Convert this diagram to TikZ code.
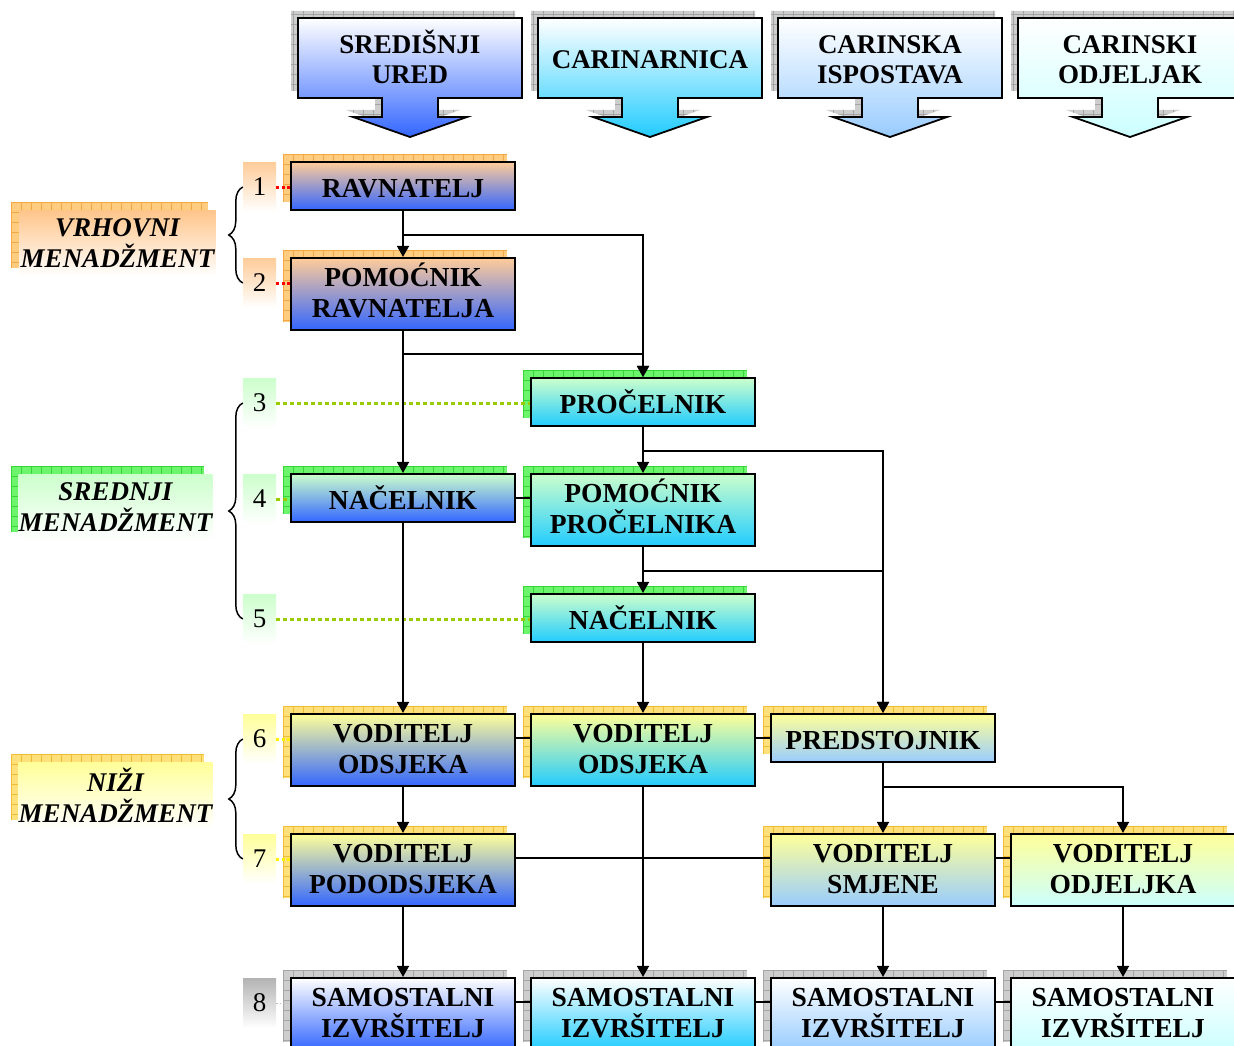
\documentclass[tikz,border=0pt]{standalone}
\usepackage{fontspec}
\setmainfont{Liberation Serif}
\usetikzlibrary{arrows.meta,calc,decorations.pathreplacing}

% box gradients
\definecolor{cPeach}{HTML}{FFCC99}
\definecolor{cBlue}{HTML}{3366FF}
\definecolor{cMint}{HTML}{CCFFCC}
\definecolor{cCyan}{HTML}{22CCFF}
\definecolor{cLemon}{HTML}{FFFF99}
\definecolor{cSky}{HTML}{99CCFF}
\definecolor{cIce}{HTML}{CCFFFF}
% patterned shadows (fill / grid line)
\definecolor{shO}{HTML}{FFCC80}\definecolor{shOL}{HTML}{F2A845}
\definecolor{shG}{HTML}{6CF56C}\definecolor{shGL}{HTML}{36D636}
\definecolor{shY}{HTML}{FFE07A}\definecolor{shYL}{HTML}{F0BE35}
\definecolor{shK}{HTML}{CDCDCD}\definecolor{shKL}{HTML}{A5A5A5}
% level leader lines
\definecolor{lvGreen}{HTML}{99CC00}
\definecolor{lvGray}{HTML}{BBBBBB}

% lines always one baselineskip apart, whatever their accents
\AtBeginDocument{\lineskiplimit=-100pt\relax}

% fixed-height text lines, so accents do not move the text
\newcommand\oneline[1]{\rule[-3.8pt]{0pt}{30.8pt}#1}
\newcommand\twolines[2]{\rule{0pt}{27pt}#1\\\rule[-11.4pt]{0pt}{11.4pt}#2}
\newcommand\hdone[1]{\rule[-9.2pt]{0pt}{36.2pt}#1}
\newcommand\hdtwo[2]{\rule{0pt}{27pt}#1\\\rule[-9.2pt]{0pt}{9.2pt}#2}

% rectangle filled with a small grid
\newcommand\gridfill[5]{%
  \fill[sh#5] (#1,#2) rectangle (#3,#4);
  \begin{scope}
    \clip (#1,#2) rectangle (#3,#4);
    \foreach \k in {0,...,24}{\draw[sh#5L,line width=0.7pt] ({#1+10*\k},#2) -- ({#1+10*\k},#4);}
    \foreach \k in {0,...,9}{\draw[sh#5L,line width=0.7pt] (#1,{#2+10*\k}) -- (#3,{#2+10*\k});}
  \end{scope}}

% post box with its offset shadow:
% name, centre x, top, height, shadow kind, top colour, bottom colour, text
\newcommand\orgbox[8]{%
  \pgfmathsetmacro\xa{#2-120}\pgfmathsetmacro\ya{#3-8}%
  \pgfmathsetmacro\xb{#2+104}\pgfmathsetmacro\yb{#3+#4-8}%
  \gridfill{\xa}{\ya}{\xb}{\yb}{#5}
  \pgfmathsetmacro\yc{#3+#4/2}%
  \node[postbox,top color=#6,middle color=#6!62!#7,bottom color=#7,minimum height=#4pt]
    (#1) at (#2,\yc) {#8};}

% callout with a downward arrow
\newcommand\headpath[1]{({#1-112},18) -- ({#1+112},18) -- ({#1+112},98) -- ({#1+28},98) -- ({#1+28},117) -- ({#1+57},117) -- (#1,137) -- ({#1-57},117) -- ({#1-28},117) -- ({#1-28},98) -- ({#1-112},98) -- cycle}

\newcommand\header[4]{%
  \begin{scope}[shift={(-7,-7)}]
    \fill[shK] \headpath{#2};
    \begin{scope}
      \clip \headpath{#2};
      \foreach \k in {0,...,25}{\draw[shKL,line width=0.7pt] ({#2-120+10*\k},0) -- ({#2-120+10*\k},140);}
      \foreach \k in {0,...,14}{\draw[shKL,line width=0.7pt] ({#2-120},{10*\k+1}) -- ({#2+120},{10*\k+1});}
    \end{scope}
  \end{scope}
  \shadedraw[top color=white,middle color=#3!40!white,bottom color=#3,draw=black,line width=1.8pt] \headpath{#2};
  \node[htext] (#1) at (#2,60) {#4};}

% level number tile: name, top, colour, number
\newcommand\level[4]{%
  \node[lvbox,top color=#3,bottom color=white] (#1) at (259.5,{#2+25}) {#4};}

\begin{document}
\begin{tikzpicture}[x=1pt,y=-1pt,
  postbox/.style={draw=black,line width=2.2pt,minimum width=224pt,inner sep=0pt,
    align=center,font=\fontsize{27.5}{31}\selectfont\bfseries},
  htext/.style={align=center,inner sep=0pt,
    font=\fontsize{27}{30}\selectfont\bfseries},
  lvbox/.style={minimum width=33pt,minimum height=50pt,inner sep=0pt,
    font=\fontsize{27}{31}\selectfont},
  mgmt/.style={minimum width=196pt,minimum height=66pt,inner sep=0pt,align=center,
    font=\fontsize{27}{31}\selectfont\bfseries\itshape},
  conn/.style={line width=1.8pt},
  arr/.style={conn,-{Triangle[width=12pt,length=11pt]}},
  brace/.style={decorate,decoration={brace,amplitude=14pt},line width=1.5pt},
  dotRed/.style={draw=red,line width=3pt,dash pattern=on 3pt off 2.5pt},
  dotGreen/.style={draw=lvGreen,line width=3pt,dash pattern=on 4pt off 3pt},
  dotYellow/.style={draw=yellow,line width=3pt,dash pattern=on 3pt off 2.5pt},
  dotGray/.style={draw=lvGray,line width=1pt,dash pattern=on 1.5pt off 2pt}]
\useasboundingbox (0,0) rectangle (1234,1046);
\fill[white] (0,0) rectangle (1234,1046);

% organisational units
\header{hd1}{410}{cBlue}{\hdtwo{SREDIŠNJI}{URED}}
\header{hd2}{650}{cCyan}{\hdone{CARINARNICA}}
\header{hd3}{890}{cSky}{\hdtwo{CARINSKA}{ISPOSTAVA}}
\header{hd4}{1130}{cIce}{\hdtwo{CARINSKI}{ODJELJAK}}

% management groups
\gridfill{11}{202}{208}{268}{O}
\node[mgmt,top color=cPeach!90!orange,bottom color=white] (top) at (117.5,243) {VRHOVNI\\MENADŽMENT};
\gridfill{11}{466}{204}{532}{G}
\node[mgmt,minimum width=193pt,top color=cMint,bottom color=white] (mid) at (115.5,507) {SREDNJI\\MENADŽMENT};
\gridfill{11}{754}{204}{820}{Y}
\node[mgmt,minimum width=193pt,top color=cLemon,bottom color=white] (low) at (115.5,795) {NIŽI\\MENADŽMENT};

% levels
\level{lv1}{162}{cPeach}{1}
\level{lv2}{258}{cPeach}{2}
\level{lv3}{378}{cMint}{3}
\level{lv4}{474}{cMint}{4}
\level{lv5}{594}{cMint}{5}
\level{lv6}{714}{cLemon}{6}
\level{lv7}{834}{cLemon}{7}
\level{lv8}{978}{black!30}{8}

\draw[brace] (lv2.west) -- (lv1.west);
\draw[brace] (lv5.west) -- (lv3.west);
\draw[brace] (lv7.west) -- (lv6.west);

% posts
\orgbox{rav}{403}{162}{48}{O}{cPeach}{cBlue}{\oneline{RAVNATELJ}}
\orgbox{pomr}{403}{258}{72}{O}{cPeach}{cBlue}{\twolines{POMOĆNIK}{RAVNATELJA}}
\orgbox{proc}{643}{378}{48}{G}{cMint}{cCyan}{\oneline{PROČELNIK}}
\orgbox{nac1}{403}{474}{48}{G}{cMint}{cBlue}{\oneline{NAČELNIK}}
\orgbox{pomp}{643}{474}{72}{G}{cMint}{cCyan}{\twolines{POMOĆNIK}{PROČELNIKA}}
\orgbox{nac2}{643}{594}{48}{G}{cMint}{cCyan}{\oneline{NAČELNIK}}
\orgbox{vo1}{403}{714}{72}{Y}{cLemon}{cBlue}{\twolines{VODITELJ}{ODSJEKA}}
\orgbox{vo2}{643}{714}{72}{Y}{cLemon}{cCyan}{\twolines{VODITELJ}{ODSJEKA}}
\orgbox{pred}{883}{714}{48}{Y}{cLemon}{cSky}{\oneline{PREDSTOJNIK}}
\orgbox{vp}{403}{834}{72}{Y}{cLemon}{cBlue}{\twolines{VODITELJ}{PODODSJEKA}}
\orgbox{vs}{883}{834}{72}{Y}{cLemon}{cSky}{\twolines{VODITELJ}{SMJENE}}
\orgbox{voj}{1123}{834}{72}{Y}{cLemon}{cIce}{\twolines{VODITELJ}{ODJELJKA}}
\orgbox{s1}{403}{978}{72}{K}{white}{cBlue}{\twolines{SAMOSTALNI}{IZVRŠITELJ}}
\orgbox{s2}{643}{978}{72}{K}{white}{cCyan}{\twolines{SAMOSTALNI}{IZVRŠITELJ}}
\orgbox{s3}{883}{978}{72}{K}{white}{cSky}{\twolines{SAMOSTALNI}{IZVRŠITELJ}}
\orgbox{s4}{1123}{978}{72}{K}{white}{cIce}{\twolines{SAMOSTALNI}{IZVRŠITELJ}}

% level leader lines
\draw[dotRed] (lv1.east) -- (lv1.east -| rav.west);
\draw[dotRed] (lv2.east) -- (lv2.east -| pomr.west);
\draw[dotGreen] (lv3.east) -- (lv3.east -| proc.west);
\draw[dotGreen] (lv4.east) -- (lv4.east -| nac1.west);
\draw[dotGreen] (lv5.east) -- (lv5.east -| nac2.west);
\draw[dotYellow] (lv6.east) -- (lv6.east -| vo1.west);
\draw[dotYellow] (lv7.east) -- (lv7.east -| vp.west);
\draw[dotGray] (lv8.east) -- (lv8.east -| s1.west);

% subordination
\draw[arr] (rav.south) -- (pomr.north);
\draw[arr] (rav.south) -- ++(0,24) -| (proc.north);
\draw[arr] (pomr.south) -- (nac1.north);
\draw[arr] (pomr.south) -- ++(0,23) -| (proc.north);
\draw[arr] (proc.south) -- (pomp.north);
\draw[arr] (proc.south) -- ++(0,24) -| (pred.north);
\draw[arr] (pomp.south) -- (nac2.north);
\draw[arr] (pomp.south) -- ++(0,24) -| (pred.north);
\draw[arr] (nac1.south) -- (vo1.north);
\draw[arr] (nac2.south) -- (vo2.north);
\draw[arr] (vo1.south) -- (vp.north);
\draw[arr] (pred.south) -- (vs.north);
\draw[arr] (pred.south) -- ++(0,24) -| (voj.north);
\draw[arr] (vp.south) -- (s1.north);
\draw[arr] (vo2.south) -- (s2.north);
\draw[arr] (vs.south) -- (s3.north);
\draw[arr] (voj.south) -- (s4.north);

% same-level links
\draw[conn] (nac1.east) -- (nac1.east -| pomp.west);
\draw[conn] (vo1.east |- pred.west) -- (vo2.west |- pred.west);
\draw[conn] (vo2.east |- pred.west) -- (pred.west);
\draw[conn] ([yshift=12pt]vp.east) -- ([yshift=12pt]vs.west);
\draw[conn] ([yshift=12pt]vs.east) -- ([yshift=12pt]voj.west);
\draw[conn] ([yshift=12pt]s1.east) -- ([yshift=12pt]s2.west);
\draw[conn] ([yshift=12pt]s2.east) -- ([yshift=12pt]s3.west);
\draw[conn] ([yshift=12pt]s3.east) -- ([yshift=12pt]s4.west);
\end{tikzpicture}
\end{document}
